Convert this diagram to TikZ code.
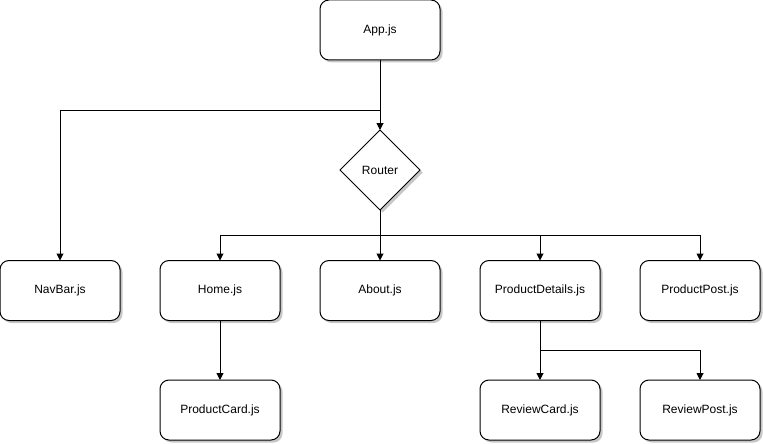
\documentclass[tikz,border=0pt]{standalone}
\usepackage{fontspec}
\setmainfont{Liberation Sans}
\usetikzlibrary{shapes.geometric,shadows,arrows.meta}
\begin{document}
\begin{tikzpicture}[x=1pt,y=-1pt,
  shd/.style={drop shadow={shadow xshift=2.5pt,shadow yshift=-2.5pt,fill=black,opacity=0.22}},
  comp/.style={draw,line width=1pt,rounded corners=9pt,fill=white,minimum width=120pt,minimum height=60pt,inner sep=0pt,outer sep=0pt,font=\fontsize{12}{14}\selectfont,shd},
  router/.style={draw,line width=1pt,diamond,aspect=1,fill=white,minimum width=80pt,minimum height=80pt,inner sep=0pt,outer sep=0pt,font=\fontsize{12}{14}\selectfont,shd},
  arr/.style={line width=1pt,-{Triangle[length=7pt,width=7pt]}}]
\useasboundingbox (0,0) rectangle (763,444);
\node[comp] (app) at (380,30) {App.js};
\node[router] (router) at (380,170) {Router};
\node[comp] (nav) at (60,290.5) {NavBar.js};
\node[comp] (home) at (220,290.5) {Home.js};
\node[comp] (about) at (380,290.5) {About.js};
\node[comp] (pd) at (540,290.5) {ProductDetails.js};
\node[comp] (pp) at (700,290.5) {ProductPost.js};
\node[comp] (pc) at (220,410) {ProductCard.js};
\node[comp] (rc) at (540,410) {ReviewCard.js};
\node[comp] (rp) at (700,410) {ReviewPost.js};
\coordinate (j1) at (380,110);
\coordinate (j2) at (380,235);
\coordinate (j3) at (540,350);
\draw[arr] (app) -- (router);
\draw[arr] (j1) -| (nav);
\draw[arr] (router) -- (about);
\draw[arr] (j2) -| (home);
\draw[arr] (j2) -| (pd);
\draw[arr] (j2) -| (pp);
\draw[line width=1pt] (j2) -- (pp.north |- j2);
\draw[arr] (home) -- (pc);
\draw[line width=1pt] (pd) -- (j3);
\draw[arr] (j3) -| (rc);
\draw[arr] (j3) -| (rp);
\end{tikzpicture}
\end{document}
